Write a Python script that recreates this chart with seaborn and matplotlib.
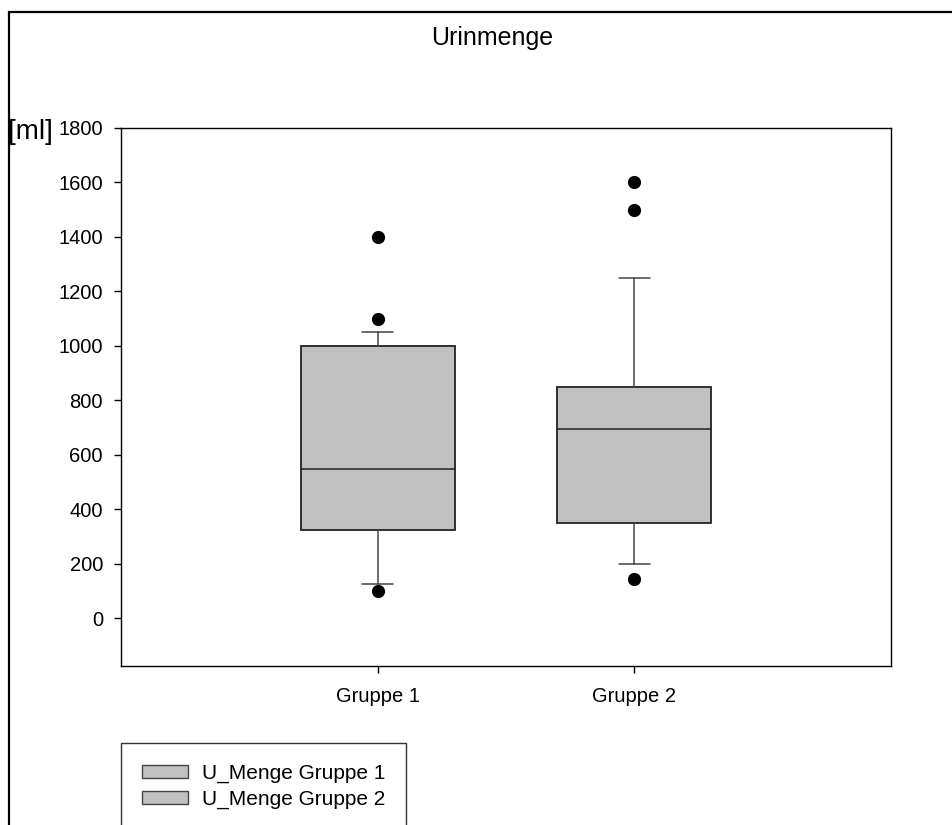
import matplotlib
matplotlib.use("Agg")
import matplotlib.pyplot as plt
import matplotlib.patches as mpatches
import seaborn as sns
import pandas as pd

# --- Daten ---
groups = ["Gruppe 1", "Gruppe 2"]
legend_labels = ["U_Menge Gruppe 1", "U_Menge Gruppe 2"]
whisker_low = [125, 200]
q1 = [325, 350]
median = [550, 695]
q3 = [1000, 850]
whisker_high = [1050, 1250]
outliers = [[100, 1100, 1400], [145, 1500, 1600]]
y_ticks = [0, 200, 400, 600, 800, 1000, 1200, 1400, 1600, 1800]

sns.set_style("white")
plt.rcParams["font.family"] = ["Liberation Sans", "DejaVu Sans"]
plt.rcParams["text.color"] = "black"
plt.rcParams["axes.labelcolor"] = "black"

fig = plt.figure(figsize=(9.52, 8.25), dpi=100)
ax = fig.add_axes([121 / 952, 1 - 666 / 825, 770 / 952, 538 / 825])

positions = [1, 2]
stats = []
for i, g in enumerate(groups):
    stats.append(dict(label=g, whislo=whisker_low[i], q1=q1[i], med=median[i],
                      q3=q3[i], whishi=whisker_high[i], fliers=[]))

ax.bxp(stats, positions=positions, widths=0.6, capwidths=0.12, patch_artist=True,
       showfliers=False, manage_ticks=False,
       boxprops=dict(facecolor="#C0C0C0", edgecolor="#222222", linewidth=1.3),
       whiskerprops=dict(color="#444444", linewidth=1.1),
       capprops=dict(color="#444444", linewidth=1.1),
       medianprops=dict(color="#222222", linewidth=1.1))

# Ausreisser mit seaborn
fl = pd.DataFrame([(positions[i], v) for i in range(len(groups)) for v in outliers[i]],
                  columns=["pos", "value"])
sns.scatterplot(data=fl, x="pos", y="value", ax=ax, color="black", s=90,
                edgecolor="black", linewidth=0, zorder=5, legend=False)

ax.set_xlim(0, 3)
ax.set_ylim(-175, 1800)
ax.set_xticks(positions)
ax.set_xticklabels(groups)
ax.set_yticks(y_ticks)
ax.set_xlabel("")
ax.set_ylabel("")
ax.tick_params(axis="both", direction="out", length=5, width=1, colors="black",
               labelsize=14.5, pad=8, left=True, bottom=True)
ax.tick_params(axis="x", pad=10)
for sp in ax.spines.values():
    sp.set_visible(True)
    sp.set_color("black")
    sp.set_linewidth(1.0)

fig.text(8 / 952, 1 - 132 / 825, "[ml]", fontsize=20, ha="left", va="center")
fig.text(492 / 952, 1 - 38 / 825, "Urinmenge", fontsize=18, ha="center", va="center")

# Legende
handles = [mpatches.Patch(facecolor="#C0C0C0", edgecolor="#444444", linewidth=1.0, label=l)
           for l in legend_labels]
leg = fig.legend(handles=handles, loc="upper left", bbox_to_anchor=(121 / 952, 1 - 743 / 825),
                 fontsize=15, frameon=True, fancybox=False, edgecolor="black",
                 handlelength=2.2, handleheight=0.62, handletextpad=0.7,
                 borderpad=1.0, labelspacing=0.32, borderaxespad=0)
leg.get_frame().set_linewidth(1.0)

# Rahmen um die Grafik
fig.patches.append(mpatches.Rectangle((9 / 952, -0.5), 1.5, 1.5 - 12 / 825,
                                      transform=fig.transFigure, fill=False,
                                      edgecolor="black", linewidth=1.6))

fig.savefig("out.png", dpi=100)
